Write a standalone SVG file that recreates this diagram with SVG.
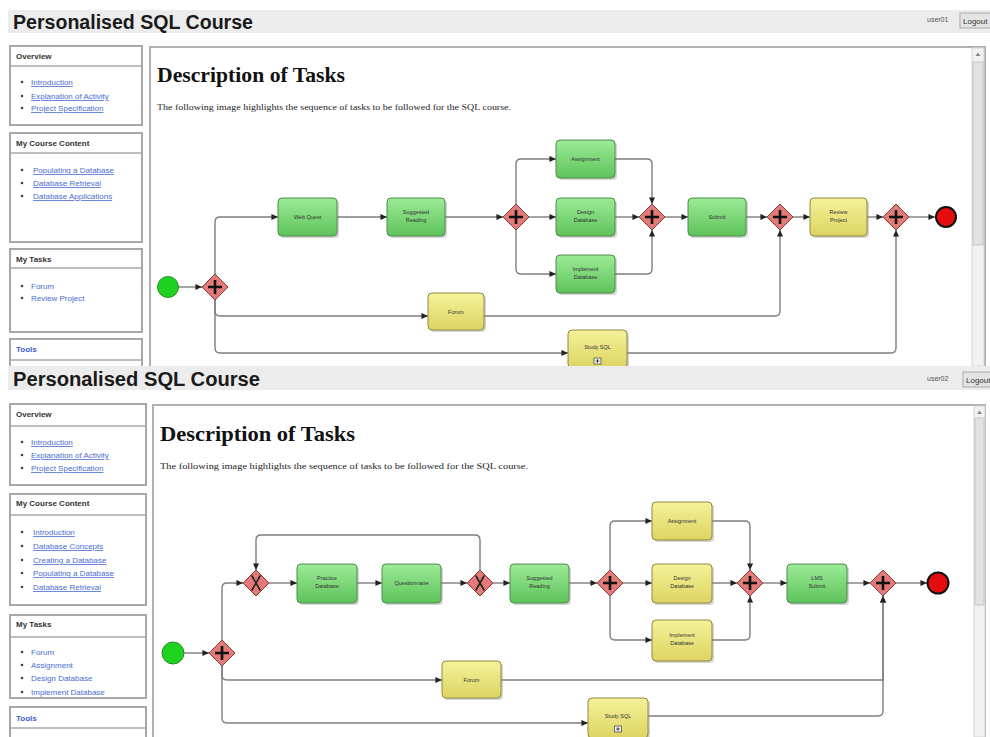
<svg xmlns="http://www.w3.org/2000/svg" width="990" height="737" viewBox="0 0 990 737">
  <defs>
    <linearGradient id="gGreen" x1="0" y1="0" x2="0" y2="1">
      <stop offset="0" stop-color="#9ceb96"/>
      <stop offset="1" stop-color="#5ec35b"/>
    </linearGradient>
    <linearGradient id="gYellow" x1="0" y1="0" x2="0" y2="1">
      <stop offset="0" stop-color="#f5f29a"/>
      <stop offset="1" stop-color="#dcd462"/>
    </linearGradient>
    <marker id="arr" viewBox="0 0 8 8" refX="7.5" refY="4" markerWidth="7" markerHeight="7" markerUnits="userSpaceOnUse" orient="auto">
      <path d="M0,0.5 L7.5,4 L0,7.5 z" fill="#222"/>
    </marker>
    <clipPath id="clipTop"><rect x="0" y="0" width="990" height="366"/></clipPath>
  </defs>
  <style>
    .bar { fill: #ececec; }
    .title { font-family: "Liberation Sans", Arial, sans-serif; font-weight: bold; font-size: 20px; fill: #1a1a1a; }
    .user { font-family: "Liberation Sans", Arial, sans-serif; font-size: 7px; fill: #555; }
    .btn { fill: #e4e4e4; stroke: #aaa; stroke-width: 1; }
    .btnt { font-family: "Liberation Sans", Arial, sans-serif; font-size: 8px; fill: #333; }
    .box { fill: #fff; stroke: #a8a8a8; stroke-width: 2; }
    .sep { stroke: #a8a8a8; stroke-width: 1.5; }
    .bh { font-family: "Liberation Sans", Arial, sans-serif; font-weight: bold; font-size: 8px; fill: #333; }
    .bhl { font-family: "Liberation Sans", Arial, sans-serif; font-weight: bold; font-size: 8px; fill: #3a5fc8; }
    .lnk { font-family: "Liberation Sans", Arial, sans-serif; font-size: 8px; fill: #4a6cd0; }
    .u { text-decoration: underline; }
    .dot { fill: #444; }
    .main { fill: #fff; stroke: #b0b0b0; stroke-width: 2; }
    .h2 { font-family: "Liberation Serif", "Times New Roman", serif; font-weight: bold; font-size: 21px; fill: #111; }
    .p { font-family: "Liberation Serif", "Times New Roman", serif; font-size: 9px; fill: #222; }
    .track { fill: #f2f2f2; stroke: #d4d4d4; stroke-width: 1; }
    .thumb { fill: #e2e2e2; stroke: #c4c4c4; stroke-width: 1; }
    .flow { fill: none; stroke: #7d7d7d; stroke-width: 1.4; marker-end: url(#arr); }
    .task { stroke-width: 1; }
    .tg { fill: url(#gGreen); stroke: #4e8c4c; }
    .ty { fill: url(#gYellow); stroke: #8f8a3e; }
    .shadow { fill: #888; opacity: 0.35; }
    .tl { font-family: "Liberation Sans", Arial, sans-serif; font-size: 5.5px; fill: #333; text-anchor: middle; }
    .gw { fill: #e27a77; stroke: #8a3c3a; stroke-width: 1; }
    .gm { stroke: #111; stroke-width: 2.6; fill: none; }
    .gx { stroke: #222; stroke-width: 1.6; fill: none; stroke-linecap: round; }
    .start { fill: #1fd21f; stroke: #2a8a2a; stroke-width: 1; }
    .end { fill: #e30d0d; stroke: #111; stroke-width: 2; }
    .sub { fill: #eee; stroke: #555; stroke-width: 0.8; }
  </style>

  <rect width="990" height="737" fill="#fff"/>

  <!-- ================= first page (user01) ================= -->
  <g id="page1" clip-path="url(#clipTop)">
    <rect class="bar" x="8" y="10" width="982" height="23"/>
    <text class="title" x="13" y="29" textLength="240" lengthAdjust="spacingAndGlyphs">Personalised SQL Course</text>
    <text class="user" x="927" y="22">user01</text>
    <rect class="btn" x="960" y="13" width="34" height="15"/>
    <text class="btnt" x="963" y="23.5">Logout</text>

    <!-- sidebar -->
    <g id="p1-overview">
      <rect class="box" x="10" y="46" width="132" height="79"/>
      <line class="sep" x1="10" y1="66" x2="142" y2="66"/>
      <text class="bh" x="16" y="59">Overview</text>
      <circle class="dot" cx="22" cy="82" r="1.3"/><text class="lnk u" x="31" y="85">Introduction</text>
      <circle class="dot" cx="22" cy="96" r="1.3"/><text class="lnk u" x="31" y="99">Explanation of Activity</text>
      <circle class="dot" cx="22" cy="108" r="1.3"/><text class="lnk u" x="31" y="111">Project Specification</text>
    </g>
    <g id="p1-content">
      <rect class="box" x="10" y="133" width="132" height="109"/>
      <line class="sep" x1="10" y1="153" x2="142" y2="153"/>
      <text class="bh" x="16" y="146">My Course Content</text>
      <circle class="dot" cx="22" cy="170" r="1.3"/><text class="lnk u" x="33" y="173">Populating a Database</text>
      <circle class="dot" cx="22" cy="183" r="1.3"/><text class="lnk u" x="33" y="186">Database Retrieval</text>
      <circle class="dot" cx="22" cy="196" r="1.3"/><text class="lnk u" x="33" y="199">Database Applications</text>
    </g>
    <g id="p1-tasks">
      <rect class="box" x="10" y="249" width="132" height="83"/>
      <line class="sep" x1="10" y1="268" x2="142" y2="268"/>
      <text class="bh" x="16" y="262">My Tasks</text>
      <circle class="dot" cx="22" cy="286" r="1.3"/><text class="lnk" x="31" y="289">Forum</text>
      <circle class="dot" cx="22" cy="298" r="1.3"/><text class="lnk" x="31" y="301">Review Project</text>
    </g>
    <g id="p1-tools">
      <rect class="box" x="10" y="339" width="132" height="40"/>
      <line class="sep" x1="10" y1="360" x2="142" y2="360"/>
      <text class="bhl" x="16" y="352">Tools</text>
    </g>

    <!-- content pane -->
    <rect class="main" x="150" y="47" width="835" height="330"/>
    <rect class="track" x="972" y="48" width="12" height="318"/>
    <rect class="thumb" x="973" y="62" width="10" height="183"/>
    <path d="M975.5,56 L978,52.5 L980.5,56 z" fill="#888"/>
    <text class="h2" x="157" y="82" textLength="188" lengthAdjust="spacingAndGlyphs">Description of Tasks</text>
    <text class="p" x="157" y="110" textLength="354" lengthAdjust="spacingAndGlyphs">The following image highlights the sequence of tasks to be followed for the SQL course.</text>

    <!-- sequence flows -->
    <g id="p1-flows">
      <path class="flow" d="M178,287 H202"/>
      <path class="flow" d="M215,274 V222 Q215,217 220,217 H278"/>
      <path class="flow" d="M337,217 H387"/>
      <path class="flow" d="M445,217 H503"/>
      <path class="flow" d="M516,204 V164 Q516,159 521,159 H556"/>
      <path class="flow" d="M529,217 H556"/>
      <path class="flow" d="M516,230 V269 Q516,274 521,274 H556"/>
      <path class="flow" d="M615,159 H647 Q652,159 652,164 V204"/>
      <path class="flow" d="M615,217 H639"/>
      <path class="flow" d="M615,274 H647 Q652,274 652,269 V230"/>
      <path class="flow" d="M665,217 H688"/>
      <path class="flow" d="M746,217 H767"/>
      <path class="flow" d="M793,217 H810"/>
      <path class="flow" d="M867,217 H883"/>
      <path class="flow" d="M909,217 H935"/>
      <path class="flow" d="M215,300 V311 Q215,316 220,316 H428"/>
      <path class="flow" d="M215,300 V348 Q215,353 220,353 H568"/>
      <path class="flow" d="M484,316 H775 Q780,316 780,311 V230"/>
      <path class="flow" d="M627,353 H891 Q896,353 896,348 V230"/>
    </g>

    <!-- events -->
    <g id="p1-start"><circle class="start" cx="168" cy="287" r="10.5"/></g>
    <g id="p1-end"><circle class="end" cx="946" cy="217" r="10"/></g>

    <!-- gateways -->
    <g id="p1-gw1"><path class="gw" d="M215,274 L228,287 L215,300 L202,287 z"/><path class="gm" d="M215,280 V294 M208,287 H222"/></g>
    <g id="p1-gw2"><path class="gw" d="M516,204 L529,217 L516,230 L503,217 z"/><path class="gm" d="M516,210 V224 M509,217 H523"/></g>
    <g id="p1-gw3"><path class="gw" d="M652,204 L665,217 L652,230 L639,217 z"/><path class="gm" d="M652,210 V224 M645,217 H659"/></g>
    <g id="p1-gw4"><path class="gw" d="M780,204 L793,217 L780,230 L767,217 z"/><path class="gm" d="M780,210 V224 M773,217 H787"/></g>
    <g id="p1-gw5"><path class="gw" d="M896,204 L909,217 L896,230 L883,217 z"/><path class="gm" d="M896,210 V224 M889,217 H903"/></g>

    <!-- tasks -->
    <g id="p1-webquest">
      <rect class="shadow" x="280" y="200" width="59" height="38" rx="4"/>
      <rect class="task tg" x="278" y="198" width="59" height="38" rx="4"/>
      <text class="tl" x="307.5" y="219">Web Quest</text>
    </g>
    <g id="p1-reading">
      <rect class="shadow" x="389" y="200" width="58" height="38" rx="4"/>
      <rect class="task tg" x="387" y="198" width="58" height="38" rx="4"/>
      <text class="tl" x="416" y="214">Suggested</text><text class="tl" x="416" y="222">Reading</text>
    </g>
    <g id="p1-assignment">
      <rect class="shadow" x="558" y="142" width="59" height="38" rx="4"/>
      <rect class="task tg" x="556" y="140" width="59" height="38" rx="4"/>
      <text class="tl" x="585.5" y="161">Assignment</text>
    </g>
    <g id="p1-design">
      <rect class="shadow" x="558" y="200" width="59" height="38" rx="4"/>
      <rect class="task tg" x="556" y="198" width="59" height="38" rx="4"/>
      <text class="tl" x="585.5" y="214">Design</text><text class="tl" x="585.5" y="222">Database</text>
    </g>
    <g id="p1-implement">
      <rect class="shadow" x="558" y="257" width="59" height="38" rx="4"/>
      <rect class="task tg" x="556" y="255" width="59" height="38" rx="4"/>
      <text class="tl" x="585.5" y="271">Implement</text><text class="tl" x="585.5" y="279">Database</text>
    </g>
    <g id="p1-submit">
      <rect class="shadow" x="690" y="200" width="58" height="38" rx="4"/>
      <rect class="task tg" x="688" y="198" width="58" height="38" rx="4"/>
      <text class="tl" x="717" y="219">Submit</text>
    </g>
    <g id="p1-review">
      <rect class="shadow" x="812" y="200" width="57" height="38" rx="4"/>
      <rect class="task ty" x="810" y="198" width="57" height="38" rx="4"/>
      <text class="tl" x="838.5" y="214">Review</text><text class="tl" x="838.5" y="222">Project</text>
    </g>
    <g id="p1-forum">
      <rect class="shadow" x="430" y="295" width="56" height="37" rx="4"/>
      <rect class="task ty" x="428" y="293" width="56" height="37" rx="4"/>
      <text class="tl" x="456" y="314">Forum</text>
    </g>
    <g id="p1-study">
      <rect class="shadow" x="570" y="332" width="59" height="38" rx="4"/>
      <rect class="task ty" x="568" y="330" width="59" height="38" rx="4"/>
      <text class="tl" x="597.5" y="349">Study SQL</text>
      <rect class="sub" x="594" y="358" width="7" height="6"/>
      <path d="M597.5,359.2 V362.8 M595.7,361 H599.3" stroke="#222" stroke-width="0.8"/>
    </g>
  </g>

  <!-- ================= second page (user02) ================= -->
  <g id="page2">
    <rect fill="#fff" x="0" y="366" width="990" height="371"/>
    <rect class="bar" x="8" y="366" width="982" height="24"/>
    <text class="title" x="13" y="386" textLength="247" lengthAdjust="spacingAndGlyphs">Personalised SQL Course</text>
    <text class="user" x="927" y="381">user02</text>
    <rect class="btn" x="963" y="372" width="32" height="15"/>
    <text class="btnt" x="966" y="382.5">Logout</text>

    <!-- sidebar -->
    <g id="p2-overview">
      <rect class="box" x="10" y="404" width="136" height="81"/>
      <line class="sep" x1="10" y1="426" x2="146" y2="426"/>
      <text class="bh" x="16" y="417">Overview</text>
      <circle class="dot" cx="22" cy="442" r="1.3"/><text class="lnk u" x="31" y="445">Introduction</text>
      <circle class="dot" cx="22" cy="455" r="1.3"/><text class="lnk u" x="31" y="458">Explanation of Activity</text>
      <circle class="dot" cx="22" cy="468" r="1.3"/><text class="lnk u" x="31" y="471">Project Specification</text>
    </g>
    <g id="p2-content">
      <rect class="box" x="10" y="494" width="136" height="111"/>
      <line class="sep" x1="10" y1="515" x2="146" y2="515"/>
      <text class="bh" x="16" y="506">My Course Content</text>
      <circle class="dot" cx="22" cy="532" r="1.3"/><text class="lnk u" x="33" y="535">Introduction</text>
      <circle class="dot" cx="22" cy="546" r="1.3"/><text class="lnk u" x="33" y="549">Database Concepts</text>
      <circle class="dot" cx="22" cy="560" r="1.3"/><text class="lnk u" x="33" y="563">Creating a Database</text>
      <circle class="dot" cx="22" cy="573" r="1.3"/><text class="lnk u" x="33" y="576">Populating a Database</text>
      <circle class="dot" cx="22" cy="587" r="1.3"/><text class="lnk u" x="33" y="590">Database Retrieval</text>
    </g>
    <g id="p2-tasks">
      <rect class="box" x="10" y="615" width="136" height="83"/>
      <line class="sep" x1="10" y1="637" x2="146" y2="637"/>
      <text class="bh" x="16" y="627">My Tasks</text>
      <circle class="dot" cx="22" cy="652" r="1.3"/><text class="lnk" x="31" y="655">Forum</text>
      <circle class="dot" cx="22" cy="665" r="1.3"/><text class="lnk" x="31" y="668">Assignment</text>
      <circle class="dot" cx="22" cy="678" r="1.3"/><text class="lnk" x="31" y="681">Design Database</text>
      <circle class="dot" cx="22" cy="692" r="1.3"/><text class="lnk" x="31" y="695">Implement Database</text>
    </g>
    <g id="p2-tools">
      <rect class="box" x="10" y="707" width="136" height="40"/>
      <line class="sep" x1="10" y1="728" x2="146" y2="728"/>
      <text class="bhl" x="16" y="721">Tools</text>
    </g>

    <!-- content pane -->
    <rect class="main" x="153" y="405" width="832" height="340"/>
    <rect class="track" x="974" y="406" width="11" height="331"/>
    <rect class="thumb" x="975" y="418" width="9" height="187"/>
    <path d="M977,414 L979.5,410.5 L982,414 z" fill="#888"/>
    <text class="h2" x="160" y="441" textLength="195" lengthAdjust="spacingAndGlyphs">Description of Tasks</text>
    <text class="p" x="160" y="469" textLength="368" lengthAdjust="spacingAndGlyphs">The following image highlights the sequence of tasks to be followed for the SQL course.</text>

    <!-- sequence flows -->
    <g id="p2-flows">
      <path class="flow" d="M184,653 H209"/>
      <path class="flow" d="M222,640 V588 Q222,583 227,583 H243"/>
      <path class="flow" d="M269,583 H297"/>
      <path class="flow" d="M357,583 H382"/>
      <path class="flow" d="M441,583 H467"/>
      <path class="flow" d="M493,583 H510"/>
      <path class="flow" d="M480,570 V540 Q480,535 475,535 H261 Q256,535 256,540 V570"/>
      <path class="flow" d="M569,583 H597"/>
      <path class="flow" d="M610,570 V526 Q610,521 615,521 H652"/>
      <path class="flow" d="M623,583 H652"/>
      <path class="flow" d="M610,596 V635 Q610,640 615,640 H652"/>
      <path class="flow" d="M712,521 H745 Q750,521 750,526 V570"/>
      <path class="flow" d="M712,583 H737"/>
      <path class="flow" d="M712,640 H745 Q750,640 750,635 V596"/>
      <path class="flow" d="M763,583 H787"/>
      <path class="flow" d="M847,583 H870"/>
      <path class="flow" d="M896,583 H927"/>
      <path class="flow" d="M222,666 V675 Q222,680 227,680 H442"/>
      <path class="flow" d="M222,666 V718 Q222,723 227,723 H588"/>
      <path class="flow" d="M501,680 H883 V596"/>
      <path class="flow" d="M648,716 H878 Q883,716 883,711 V596"/>
    </g>

    <!-- events -->
    <g id="p2-start"><circle class="start" cx="173" cy="653" r="11"/></g>
    <g id="p2-end"><circle class="end" cx="938" cy="583" r="10.5"/></g>

    <!-- gateways (parallel: plus, exclusive: X) -->
    <g id="p2-gw1"><path class="gw" d="M222,640 L235,653 L222,666 L209,653 z"/><path class="gm" d="M222,646 V660 M215,653 H229"/></g>
    <g id="p2-xor1"><path class="gw" d="M256,570 L269,583 L256,596 L243,583 z"/><path class="gx" d="M252,576 Q256,583 260,590 M260,576 Q256,583 252,590"/></g>
    <g id="p2-xor2"><path class="gw" d="M480,570 L493,583 L480,596 L467,583 z"/><path class="gx" d="M476,576 Q480,583 484,590 M484,576 Q480,583 476,590"/></g>
    <g id="p2-gw2"><path class="gw" d="M610,570 L623,583 L610,596 L597,583 z"/><path class="gm" d="M610,576 V590 M603,583 H617"/></g>
    <g id="p2-gw3"><path class="gw" d="M750,570 L763,583 L750,596 L737,583 z"/><path class="gm" d="M750,576 V590 M743,583 H757"/></g>
    <g id="p2-gw4"><path class="gw" d="M883,570 L896,583 L883,596 L870,583 z"/><path class="gm" d="M883,576 V590 M876,583 H890"/></g>

    <!-- tasks -->
    <g id="p2-practice">
      <rect class="shadow" x="299" y="566" width="60" height="39" rx="4"/>
      <rect class="task tg" x="297" y="564" width="60" height="39" rx="4"/>
      <text class="tl" x="327" y="580">Practice</text><text class="tl" x="327" y="588">Database</text>
    </g>
    <g id="p2-questionnaire">
      <rect class="shadow" x="384" y="566" width="59" height="39" rx="4"/>
      <rect class="task tg" x="382" y="564" width="59" height="39" rx="4"/>
      <text class="tl" x="411.5" y="585">Questionnaire</text>
    </g>
    <g id="p2-reading">
      <rect class="shadow" x="512" y="566" width="59" height="39" rx="4"/>
      <rect class="task tg" x="510" y="564" width="59" height="39" rx="4"/>
      <text class="tl" x="539.5" y="580">Suggested</text><text class="tl" x="539.5" y="588">Reading</text>
    </g>
    <g id="p2-assignment">
      <rect class="shadow" x="654" y="504" width="60" height="38" rx="4"/>
      <rect class="task ty" x="652" y="502" width="60" height="38" rx="4"/>
      <text class="tl" x="682" y="523">Assignment</text>
    </g>
    <g id="p2-design">
      <rect class="shadow" x="654" y="566" width="60" height="39" rx="4"/>
      <rect class="task ty" x="652" y="564" width="60" height="39" rx="4"/>
      <text class="tl" x="682" y="580">Design</text><text class="tl" x="682" y="588">Database</text>
    </g>
    <g id="p2-implement">
      <rect class="shadow" x="654" y="622" width="60" height="41" rx="4"/>
      <rect class="task ty" x="652" y="620" width="60" height="41" rx="4"/>
      <text class="tl" x="682" y="637">Implement</text><text class="tl" x="682" y="645">Database</text>
    </g>
    <g id="p2-lms">
      <rect class="shadow" x="789" y="566" width="60" height="39" rx="4"/>
      <rect class="task tg" x="787" y="564" width="60" height="39" rx="4"/>
      <text class="tl" x="817" y="580">LMS</text><text class="tl" x="817" y="588">Submit</text>
    </g>
    <g id="p2-forum">
      <rect class="shadow" x="444" y="663" width="59" height="37" rx="4"/>
      <rect class="task ty" x="442" y="661" width="59" height="37" rx="4"/>
      <text class="tl" x="471.5" y="682">Forum</text>
    </g>
    <g id="p2-study">
      <rect class="shadow" x="590" y="700" width="60" height="40" rx="4"/>
      <rect class="task ty" x="588" y="698" width="60" height="40" rx="4"/>
      <text class="tl" x="618" y="718">Study SQL</text>
      <rect class="sub" x="614.5" y="726" width="7" height="6"/>
      <path d="M618,727.2 V730.8 M616.2,729 H619.8" stroke="#222" stroke-width="0.8"/>
    </g>
  </g>
</svg>
